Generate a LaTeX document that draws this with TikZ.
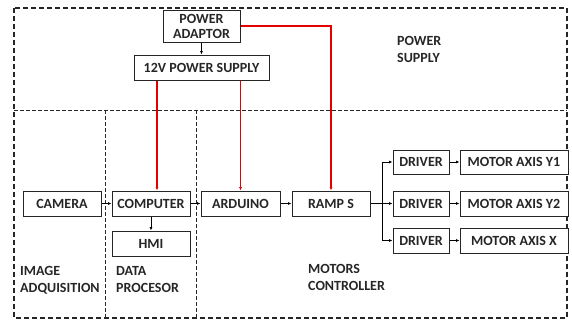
\documentclass[tikz,border=0pt]{standalone}
\usepackage{fontspec}
\setmainfont{Carlito}
\usetikzlibrary{arrows.meta}
\begin{document}
\begin{tikzpicture}[x=1pt,y=-1pt,
  box/.style={draw=black!85, line width=1pt, fill=white, inner sep=0pt, minimum height=25pt,
    font=\bfseries\fontsize{14}{15}\selectfont, text=black!85},
  lbl/.style={anchor=north west, align=left, inner sep=0pt, font=\bfseries\fontsize{14}{17}\selectfont, text=black!85},
  outer/.style={line width=1.2pt, dash pattern=on 5pt off 3pt, black!85},
  divider/.style={line width=0.9pt, dash pattern=on 3.5pt off 2.5pt, black!85},
  arr/.style={line width=1pt, black, -{Latex[length=3.5pt,width=3pt]}},
  redarr/.style={line width=1.5pt, red!90!black, -{Latex[length=3.5pt,width=3pt]}}]
\useasboundingbox (0,0) rectangle (572,324);
% regions
\draw[outer] (14,8) rectangle (567,318);
\draw[divider] (14,110) -- (567,110);
\draw[divider] (105,110) -- (105,318);
\draw[divider] (196,110) -- (196,318);
% nodes
\node[box, minimum width=77pt, minimum height=32pt, align=center] (adaptor) at (201.5,26) {POWER\\ADAPTOR};
\node[box, minimum width=135pt] (ps) at (201.5,67.5) {12V POWER SUPPLY};
\node[box, minimum width=78pt] (camera) at (62,203.5) {CAMERA};
\node[box, minimum width=78pt] (computer) at (151,203.5) {COMPUTER};
\node[box, minimum width=79pt] (arduino) at (240.5,203.5) {ARDUINO};
\node[box, minimum width=78pt] (hmi) at (151,243.5) {HMI};
\node[box, minimum width=78pt] (ramps) at (331,203.5) {RAMP S};
\node[box, minimum width=56pt, minimum height=24pt] (drv1) at (421,162) {DRIVER};
\node[box, minimum width=56pt] (drv2) at (421,203.5) {DRIVER};
\node[box, minimum width=56pt] (drv3) at (421,240.5) {DRIVER};
\node[box, minimum width=108pt, minimum height=24pt] (mot1) at (514,162) {MOTOR AXIS Y1};
\node[box, minimum width=108pt] (mot2) at (514,203.5) {MOTOR AXIS Y2};
\node[box, minimum width=108pt] (mot3) at (514,240.5) {MOTOR AXIS X};
% labels
\node[lbl] (lps) at (397,36) {POWER\\SUPPLY};
\node[lbl] (lia) at (20,266) {IMAGE\\ADQUISITION};
\node[lbl] (ldp) at (116,266) {DATA\\PROCESOR};
\node[lbl] (lmc) at (308,264) {MOTORS\\CONTROLLER};
% black connectors
\draw[arr] (adaptor.south) -- (ps.north);
\draw[arr] (camera.east) -- (computer.west);
\draw[arr] (computer.east) -- (arduino.west);
\draw[arr] (arduino.east) -- (ramps.west);
\draw[arr] (computer.south) -- (hmi.north);
\coordinate (br) at (382,203.5);
\draw[line width=1pt] (ramps.east) -- (br);
\draw[arr] (br) |- (drv1.west);
\draw[arr] (br) -- (drv2.west);
\draw[arr] (br) |- (drv3.west);
\draw[arr] (drv1.east) -- (mot1.west);
\draw[arr] (drv2.east) -- (mot2.west);
\draw[arr] (drv3.east) -- (mot3.west);
% red connectors
\draw[redarr] ([xshift=6pt]ps.south -| computer.north) -- ([xshift=6pt]computer.north);
\draw[redarr] (ps.south -| arduino.north) -- (arduino.north);
\draw[redarr] (adaptor.east) -| (ramps.north);
\end{tikzpicture}
\end{document}
